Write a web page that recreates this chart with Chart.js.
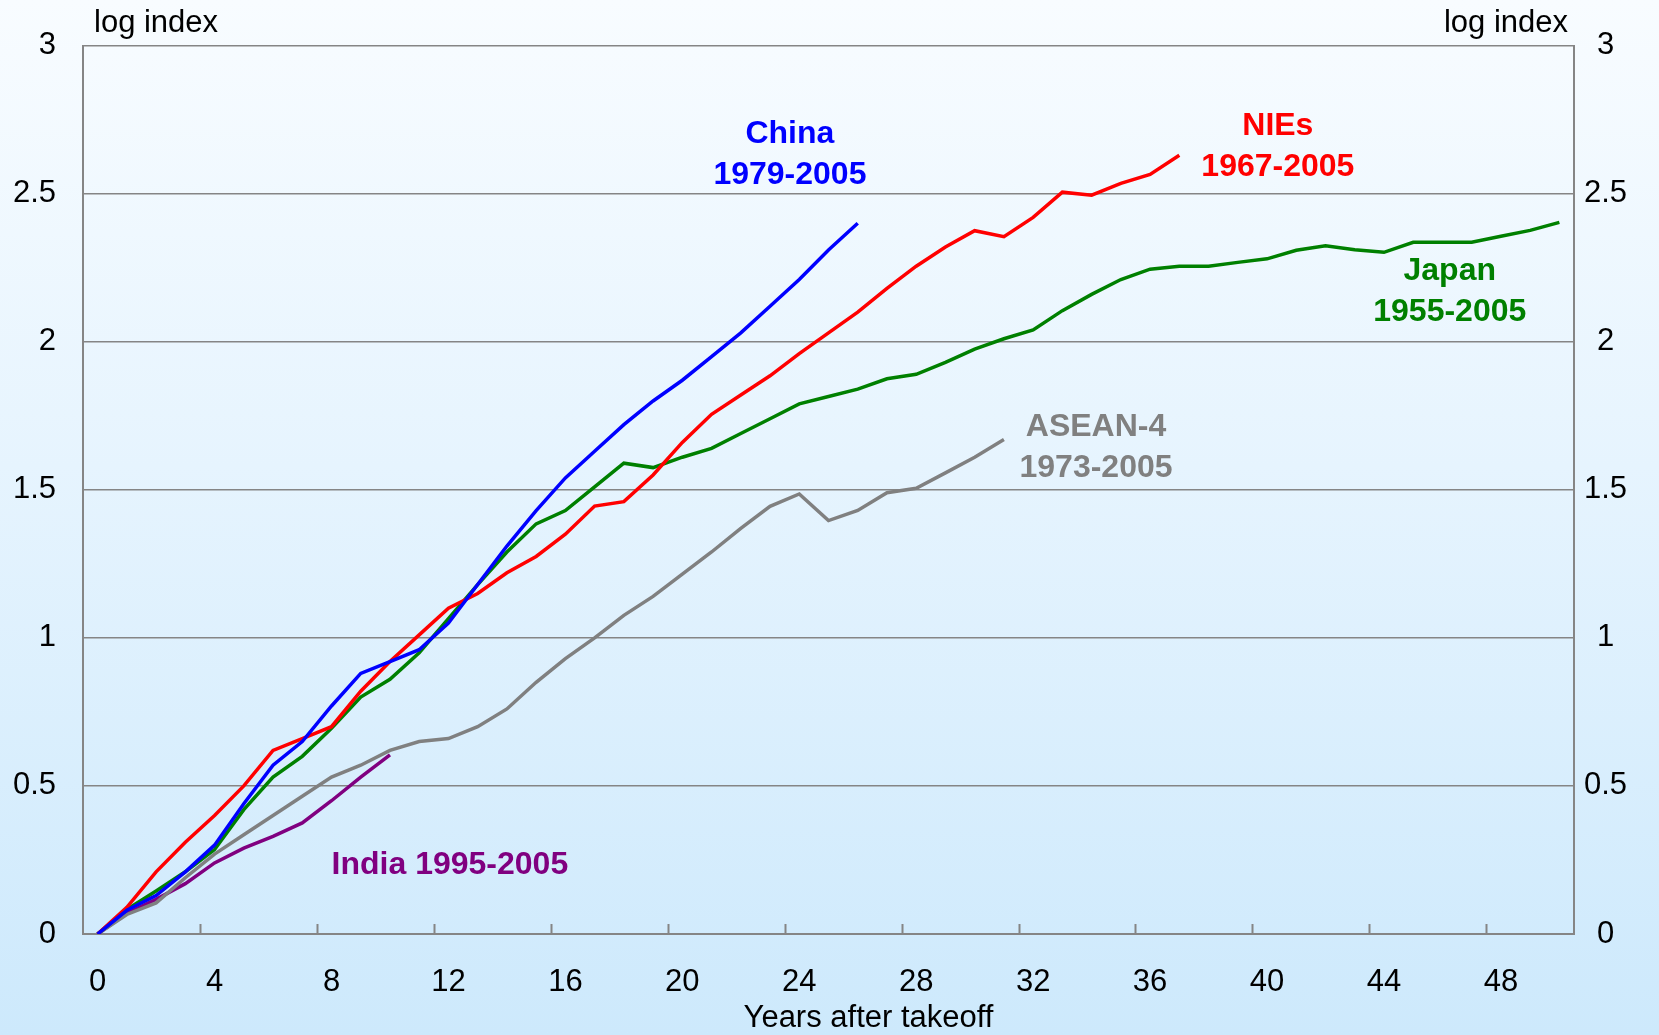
<!DOCTYPE html>
<html lang="en">
    <head>
        <meta charset="UTF-8" />
        <title>Output per capita after takeoff</title>
        <script src="https://cdn.jsdelivr.net/npm/chart.js"></script>
        <style>
            html, body {
                margin: 0;
                padding: 0;
            }
            body {
                width: 1659px;
                height: 1035px;
                background: linear-gradient(to bottom, #f8fcff 0%, #e6f4fe 45%, #cde9fc 100%);
            }
            #wrap {
                position: relative;
                width: 1659px;
                height: 1035px;
            }
        </style>
    </head>
    <body>
        <div id="wrap"><canvas id="takeoffChart"></canvas></div>

        <script>
            // years after takeoff, log index
            const xTicks = [0, 4, 8, 12, 16, 20, 24, 28, 32, 36, 40, 44, 48];
            const yTicks = [0, 0.5, 1, 1.5, 2, 2.5, 3];

            const china = [0, 0.08, 0.13, 0.21, 0.30, 0.44, 0.57, 0.65, 0.77, 0.88,
                0.92, 0.96, 1.05, 1.18, 1.31, 1.43, 1.54, 1.63, 1.72, 1.80,
                1.87, 1.95, 2.03, 2.12, 2.21, 2.31, 2.40];
            const nies = [0, 0.09, 0.21, 0.31, 0.40, 0.50, 0.62, 0.66, 0.70, 0.82,
                0.92, 1.01, 1.10, 1.15, 1.22, 1.275, 1.35, 1.445, 1.46, 1.55,
                1.66, 1.755, 1.82, 1.885, 1.96, 2.03, 2.10, 2.18, 2.255, 2.32,
                2.375, 2.355, 2.42, 2.505, 2.495, 2.535, 2.565, 2.63];
            const japan = [0, 0.083, 0.145, 0.21, 0.285, 0.42, 0.53, 0.60, 0.695, 0.80,
                0.86, 0.95, 1.065, 1.18, 1.29, 1.385, 1.43, 1.51, 1.59, 1.575,
                1.61, 1.64, 1.69, 1.74, 1.79, 1.815, 1.84, 1.875, 1.89, 1.93,
                1.975, 2.01, 2.04, 2.105, 2.16, 2.21, 2.245, 2.255, 2.255, 2.268,
                2.28, 2.309, 2.324, 2.311, 2.302, 2.336, 2.336, 2.336, 2.356, 2.376,
                2.403];
            const asean4 = [0, 0.066, 0.105, 0.19, 0.27, 0.335, 0.40, 0.465, 0.53, 0.57,
                0.62, 0.65, 0.66, 0.70, 0.76, 0.85, 0.93, 1.00, 1.076, 1.14,
                1.215, 1.29, 1.37, 1.444, 1.486, 1.396, 1.43, 1.49, 1.505, 1.557,
                1.61, 1.67];
            const india = [0, 0.07, 0.117, 0.17, 0.24, 0.29, 0.33, 0.375, 0.45, 0.53, 0.605];

            const FONT = "'Liberation Sans', Arial, sans-serif";
            const AXIS_GREY = "#858585";

            const series = [
                { label: "China", data: china, color: "#0000ff",
                  text: ["China", "1979-2005"], at: [23.68, 2.70] },
                { label: "NIEs", data: nies, color: "#ff0000",
                  text: ["NIEs", "1967-2005"], at: [40.37, 2.727] },
                { label: "Japan", data: japan, color: "#008000",
                  text: ["Japan", "1955-2005"], at: [46.25, 2.239] },
                { label: "ASEAN-4", data: asean4, color: "#808080",
                  text: ["ASEAN-4", "1973-2005"], at: [34.15, 1.71] },
                { label: "India", data: india, color: "#800080",
                  text: ["India 1995-2005"], at: [12.05, 0.232] },
            ];

            // series names written next to the lines, plus the inward x tick marks
            const extras = {
                id: "extras",
                afterDatasetsDraw(chart) {
                    const { ctx, chartArea } = chart;
                    const x = chart.scales.x;
                    const y = chart.scales.y;

                    ctx.save();
                    ctx.strokeStyle = AXIS_GREY;
                    ctx.lineWidth = 2;
                    for (let v = 3.5; v < 50; v += 4) {
                        const px = Math.round(x.getPixelForValue(v)) + 0.5;
                        ctx.beginPath();
                        ctx.moveTo(px, chartArea.bottom);
                        ctx.lineTo(px, chartArea.bottom - 10);
                        ctx.stroke();
                    }

                    ctx.font = "bold 32px " + FONT;
                    ctx.textAlign = "center";
                    ctx.textBaseline = "middle";
                    series.forEach((s) => {
                        ctx.fillStyle = s.color;
                        const px = x.getPixelForValue(s.at[0]);
                        const py = y.getPixelForValue(s.at[1]);
                        s.text.forEach((t, i) => ctx.fillText(t, px, py + i * 41));
                    });

                    ctx.fillStyle = "#000";
                    ctx.font = "31px " + FONT;
                    ctx.textBaseline = "alphabetic";
                    ctx.textAlign = "left";
                    ctx.fillText("log index", chartArea.left + 11, 32);
                    ctx.textAlign = "right";
                    ctx.fillText("log index", chartArea.right - 6, 32);
                    ctx.textAlign = "center";
                    ctx.textBaseline = "middle";
                    ctx.fillText("Years after takeoff", (chartArea.left + chartArea.right) / 2 + 40, 1018);
                    ctx.restore();
                },
            };

            const tickFont = { family: FONT, size: 31 };

            const ctx = document.getElementById("takeoffChart").getContext("2d");

            new Chart(ctx, {
                type: "line",
                data: {
                    datasets: series.map((s) => ({
                        label: s.label,
                        data: s.data.map((v, i) => ({ x: i, y: v })),
                        borderColor: s.color,
                        backgroundColor: s.color,
                        borderWidth: 3.5,
                        pointRadius: 0,
                        tension: 0,
                        fill: false,
                    })),
                },
                options: {
                    responsive: true,
                    maintainAspectRatio: false,
                    animation: false,
                    events: [],
                    layout: {
                        padding: { top: 40, left: 13, right: 33, bottom: 36 },
                    },
                    plugins: {
                        legend: { display: false },
                        tooltip: { enabled: false },
                    },
                    scales: {
                        x: {
                            type: "linear",
                            min: -0.5,
                            max: 50.5,
                            afterBuildTicks(axis) {
                                axis.ticks = xTicks.map((v) => ({ value: v }));
                            },
                            afterFit(axis) {
                                axis.height = 65;
                                axis.paddingLeft = 0;
                                axis.paddingRight = 0;
                            },
                            grid: { display: false, drawTicks: false },
                            border: { display: true, color: AXIS_GREY, width: 2 },
                            ticks: {
                                padding: 30,
                                color: "#000",
                                font: tickFont,
                                maxRotation: 0,
                            },
                        },
                        y: {
                            position: "left",
                            min: 0,
                            max: 3,
                            afterBuildTicks(axis) {
                                axis.ticks = yTicks.map((v) => ({ value: v }));
                            },
                            afterFit(axis) {
                                axis.width = 70;
                            },
                            grid: { color: AXIS_GREY, lineWidth: 1.6, drawTicks: false },
                            border: { display: true, color: AXIS_GREY, width: 2 },
                            ticks: {
                                padding: 27,
                                color: "#000",
                                font: tickFont,
                                callback: (v) => String(v),
                            },
                        },
                        y2: {
                            position: "right",
                            min: 0,
                            max: 3,
                            afterBuildTicks(axis) {
                                axis.ticks = yTicks.map((v) => ({ value: v }));
                            },
                            afterFit(axis) {
                                axis.width = 52;
                            },
                            grid: { display: false, drawTicks: false },
                            border: { display: true, color: AXIS_GREY, width: 2 },
                            ticks: {
                                padding: 10,
                                crossAlign: "center",
                                color: "#000",
                                font: tickFont,
                                callback: (v) => String(v),
                            },
                        },
                    },
                },
                plugins: [extras],
            });
        </script>
    </body>
</html>
